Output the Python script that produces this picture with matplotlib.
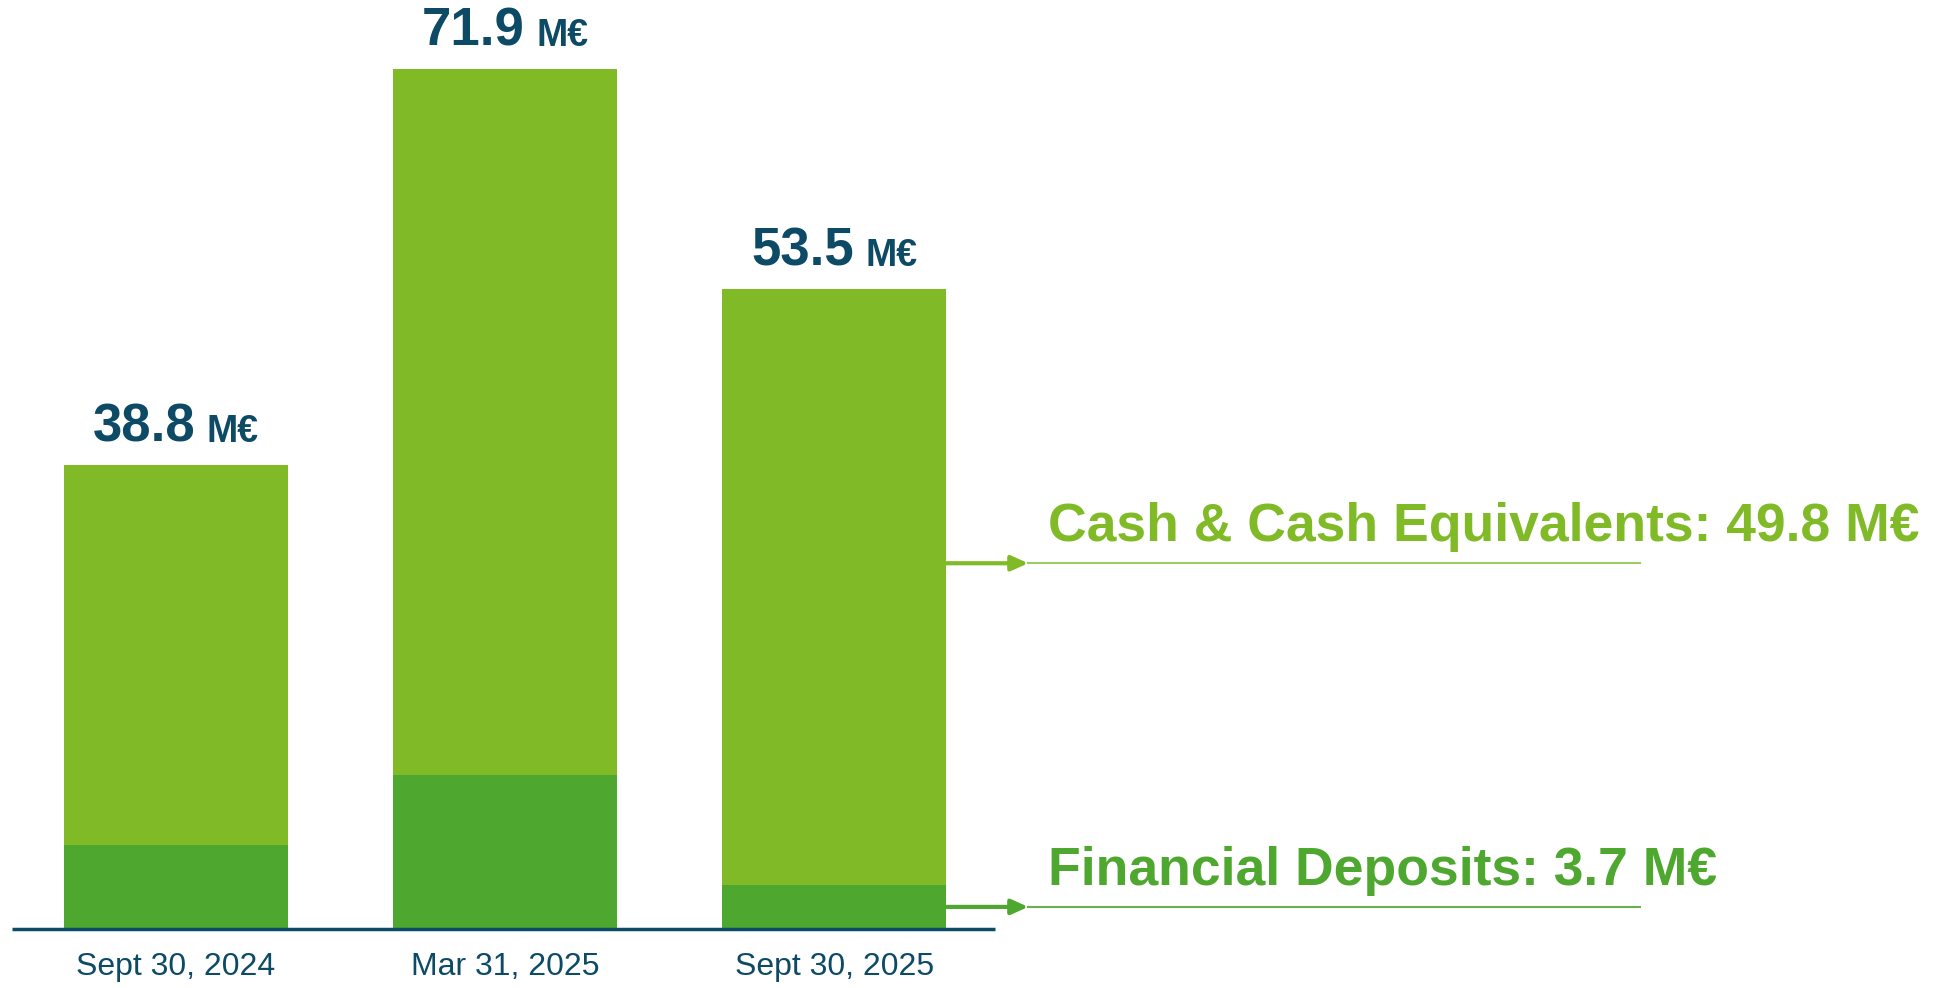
import matplotlib
matplotlib.use("Agg")
import matplotlib.pyplot as plt
from matplotlib.offsetbox import TextArea, HPacker, AnnotationBbox

# data (M€)
dates = ["Sept 30, 2024", "Mar 31, 2025", "Sept 30, 2025"]
deposits = [7.0, 12.9, 3.7]
cash = [31.8, 59.0, 49.8]
totals = ["38.8", "71.9", "53.5"]
cash_label = "Cash & Cash Equivalents: 49.8 M€"
dep_label = "Financial Deposits: 3.7 M€"

LIGHT = "#80ba27"
DARK = "#4ea72e"
NAVY = "#0d4a66"
FONT = ["Liberation Sans Narrow", "Liberation Sans", "DejaVu Sans"]

plt.rcParams["font.family"] = FONT

fig = plt.figure(figsize=(19.38, 9.88), dpi=100)
ax = fig.add_axes([0, 0.0597, 1, 0.9403])
ax.set_xlim(-0.535, 5.355)
ax.set_ylim(0, 77.7)
ax.axis("off")

x = list(range(len(dates)))
width = 0.68
ax.bar(x, deposits, width, color=DARK, zorder=2)
ax.bar(x, cash, width, bottom=deposits, color=LIGHT, zorder=2)

# baseline
ax.plot([-0.5, 2.49], [0, 0], color=NAVY, lw=2.5, solid_capstyle="butt",
        zorder=3, clip_on=False)

# date labels
for xi, d in zip(x, dates):
    ax.annotate(d, (xi, 0), xytext=(0, -27), textcoords="offset points",
                ha="center", va="center", fontsize=23, color=NAVY)

# total labels above bars
for xi, dep, c, t in zip(x, deposits, cash, totals):
    num = TextArea(t, textprops=dict(fontsize=38, fontweight="bold",
                                     color=NAVY, family=FONT))
    unit = TextArea("M€", textprops=dict(fontsize=27, fontweight="bold",
                                         color=NAVY, family=FONT))
    box = HPacker(children=[num, unit], align="baseline", pad=0, sep=8)
    ab = AnnotationBbox(box, (xi, dep + c), xybox=(0, 9),
                        xycoords="data", boxcoords="offset points",
                        box_alignment=(0.5, 0), frameon=False)
    ax.add_artist(ab)

# callouts for the last bar
last = len(x) - 1
edge = last + width / 2
y_dep = deposits[last] / 2
y_cash = deposits[last] + cash[last] * 0.54
for y, col, lab, lcol in [(y_cash, LIGHT, cash_label, "#9ccc65"),
                          (y_dep, DARK, dep_label, "#6ab04c")]:
    tip = edge + 0.25
    ax.annotate("", xy=(tip, y), xytext=(edge, y),
                arrowprops=dict(arrowstyle="-|>,head_length=1.0,head_width=0.45",
                                color=col, lw=3, shrinkA=0, shrinkB=0))
    ax.plot([tip, 4.45], [y, y], color=lcol, lw=1.5)
    ax.annotate(lab, (tip, y), xytext=(14, 16), textcoords="offset points",
                ha="left", va="baseline", fontsize=38.5, fontweight="bold",
                color=col)

fig.savefig("out.png", dpi=100)
